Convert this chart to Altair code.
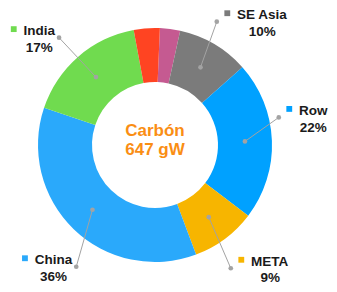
import math
import altair as alt
import pandas as pd

# ---- data ----
categories = ["Otros 1", "SE Asia", "Row", "META", "China", "India", "Otros 2"]
values = [2.8, 10, 22, 9, 36, 17, 3.6]
colors = ["#C55A91", "#7B7B7B", "#00A1FF", "#F7B500", "#2AA9FB", "#70DB4F", "#FF4422"]
label_names = ["SE Asia", "Row", "META", "China", "India"]
label_pcts = ["10%", "22%", "9%", "36%", "17%"]
center_lines = ["Carbón", "647 gW"]

# ---- layout (styles / positions) ----
W, H = 321, 276
CX, CY = 147, 137
R_OUT, R_IN = 117, 63
START_DEG = 2.4
FONT = "Liberation Sans"
FS = 13.5
# leader-line outer point: angle shift from slice middle (deg), radius (px)
label_shift = {"SE Asia": -3.75, "Row": -10.3, "META": 5.1, "China": -11.1, "India": -0.8}
label_radius = {"SE Asia": 137.9, "Row": 126.8, "META": 144.7, "China": 145.0, "India": 144.0}

# Arial-bold-like widths (per 1000 em)
CW = {"S": 667, "E": 667, " ": 278, "A": 722, "s": 556, "i": 278, "a": 556, "R": 722,
      "o": 611, "w": 778, "M": 833, "T": 611, "I": 278, "n": 611, "d": 611, "C": 722, "h": 611}


def text_width(t):
    return sum(CW.get(c, 600) for c in t) * FS / 1000.0


total = sum(values)
start_rad = math.radians(START_DEG)
slices = pd.DataFrame({"cat": categories, "value": values, "idx": list(range(len(values)))})

# mid angles of slices
mids = {}
acc = 0.0
for c, v in zip(categories, values):
    mids[c] = START_DEG + (acc + v / 2) / total * 360.0
    acc += v

R_MID = (R_OUT + R_IN) / 2
rows_line, rows_sq, rows_name, rows_pct = [], [], [], []
for name, pct in zip(label_names, label_pcts):
    a_in = math.radians(mids[name])
    a_out = math.radians(mids[name] + label_shift[name])
    x1, y1 = R_MID * math.sin(a_in), R_MID * math.cos(a_in)
    r2 = label_radius[name]
    x2, y2 = r2 * math.sin(a_out), r2 * math.cos(a_out)
    rows_line.append({"cat": name, "x": x1, "y": y1, "x2": x2, "y2": y2})
    w = text_width(name)
    if math.sin(a_out) > 0:
        left = x2 + 20.3
    else:
        left = x2 - 4 - w
    base = y2 + 2.4
    rows_sq.append({"cat": name, "x": left - 9.8, "y": y2 + 8.5})
    rows_name.append({"t": name, "x": left, "y": base})
    rows_pct.append({"t": pct, "x": left + w / 2, "y": base - 16.5})

lines_df = pd.DataFrame(rows_line)
dots_df = pd.concat([
    lines_df[["x", "y"]],
    lines_df[["x2", "y2"]].rename(columns={"x2": "x", "y2": "y"}),
], ignore_index=True)
sq_df = pd.DataFrame(rows_sq)
name_df = pd.DataFrame(rows_name)
pct_df = pd.DataFrame(rows_pct)
center_df = pd.DataFrame({"t": center_lines, "x": [0, 0], "y": [9.3, -10.0]})

xs = alt.Scale(domain=[-CX, W - CX], nice=False, zero=False)
ys = alt.Scale(domain=[-(H - CY), CY], nice=False, zero=False)
color_scale = alt.Scale(domain=categories, range=colors)

arc = alt.Chart(slices).mark_arc(outerRadius=R_OUT, innerRadius=R_IN).encode(
    theta=alt.Theta("value:Q", stack=True,
                    scale=alt.Scale(range=[start_rad, start_rad + 2 * math.pi])),
    color=alt.Color("cat:N", scale=color_scale, legend=None),
    order=alt.Order("idx:Q"),
    x=alt.value(CX),
    y=alt.value(CY),
)

rules = alt.Chart(lines_df).mark_rule(color="#A3A3A3", strokeWidth=1).encode(
    x=alt.X("x:Q", scale=xs, axis=None),
    y=alt.Y("y:Q", scale=ys, axis=None),
    x2="x2:Q",
    y2="y2:Q",
)

dots = alt.Chart(dots_df).mark_point(filled=True, shape="circle", size=22, color="#A3A3A3", opacity=1).encode(
    x=alt.X("x:Q", scale=xs, axis=None),
    y=alt.Y("y:Q", scale=ys, axis=None),
)

squares = alt.Chart(sq_df).mark_point(filled=True, shape="square", size=34, opacity=1).encode(
    x=alt.X("x:Q", scale=xs, axis=None),
    y=alt.Y("y:Q", scale=ys, axis=None),
    color=alt.Color("cat:N", scale=color_scale, legend=None),
)

names = alt.Chart(name_df).mark_text(font=FONT, fontSize=FS, fontWeight="bold", align="left",
                                     baseline="alphabetic", color="#1A1A1A").encode(
    x=alt.X("x:Q", scale=xs, axis=None),
    y=alt.Y("y:Q", scale=ys, axis=None),
    text="t:N",
)

pcts = alt.Chart(pct_df).mark_text(font=FONT, fontSize=FS, fontWeight="bold", align="center",
                                   baseline="alphabetic", color="#1A1A1A").encode(
    x=alt.X("x:Q", scale=xs, axis=None),
    y=alt.Y("y:Q", scale=ys, axis=None),
    text="t:N",
)

center = alt.Chart(center_df).mark_text(font=FONT, fontSize=17, fontWeight="bold", align="center",
                                        baseline="alphabetic", color="#FA8E14").encode(
    x=alt.X("x:Q", scale=xs, axis=None),
    y=alt.Y("y:Q", scale=ys, axis=None),
    text="t:N",
)

chart = alt.layer(arc, rules, dots, squares, names, pcts, center).properties(
    width=W, height=H, padding=0,
    autosize=alt.AutoSizeParams(type="none"),
    background="white",
).configure_view(strokeWidth=0)

chart.save("out.html", embed_options={"renderer": "svg", "actions": False})
